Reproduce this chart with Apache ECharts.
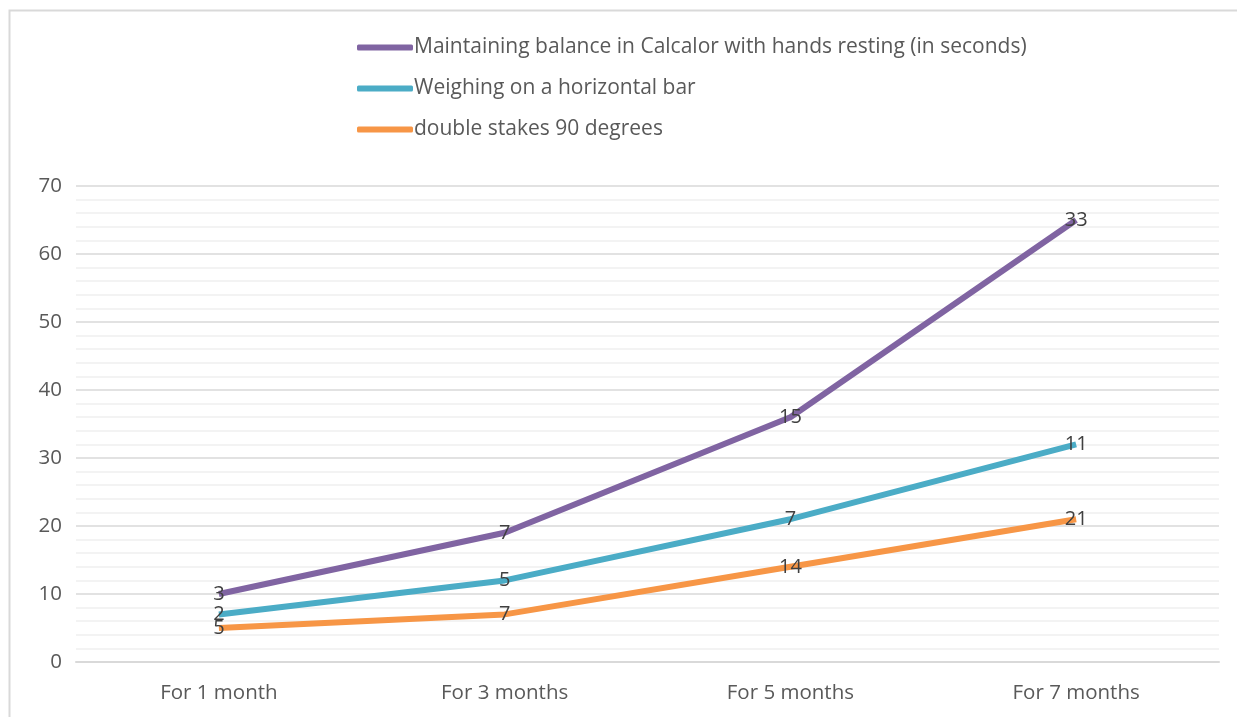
<!DOCTYPE html>
<html>
<head>
<meta charset="utf-8">
<style>
  html, body { margin: 0; padding: 0; background: #fff; }
  #chart { width: 1237px; height: 717px; }
</style>
<script src="https://cdn.jsdelivr.net/npm/echarts@6/dist/echarts.min.js"></script>
</head>
<body>
<div id="chart"></div>
<script>
  // categories and stacked values (labels show each series' own value)
  var months = ["For 1 month", "For 3 months", "For 5 months", "For 7 months"];
  var balanceData = [3, 7, 15, 33];
  var barData = [2, 5, 7, 11];
  var stakesData = [5, 7, 14, 21];

  var names = [
    "Maintaining balance in Calcalor with hands resting (in seconds)",
    "Weighing on a horizontal bar",
    "double stakes 90 degrees"
  ];
  var colors = ["#8064A2", "#4BACC6", "#F79646"];
  var font = "'Open Sans', Lato, sans-serif";

  var myChart = echarts.init(document.getElementById("chart"));

  function makeSeries(name, data, color) {
    return {
      name: name,
      type: "line",
      stack: "total",
      data: data,
      symbol: "circle",
      symbolSize: 0,
      showSymbol: true,
      lineStyle: { color: color, width: 6 },
      itemStyle: { color: color },
      label: {
        show: true,
        position: "inside",
        offset: [0, 2],
        color: "#404040",
        fontSize: 20,
        fontFamily: font
      },
      labelLayout: { hideOverlap: false }
    };
  }

  var option = {
    animation: false,
    backgroundColor: "#fff",
    graphic: [{
      type: "rect",
      shape: { x: 9.5, y: 10.5, width: 1400, height: 900 },
      style: { fill: null, stroke: "#d9d9d9", lineWidth: 2 },
      silent: true
    }],
    legend: {
      orient: "vertical",
      left: 352,
      top: 31,
      itemWidth: 56,
      itemHeight: 6,
      itemGap: 18,
      icon: "roundRect",
      data: names,
      textStyle: { color: "#595959", fontSize: 21, lineHeight: 23, fontFamily: font, padding: [0, 0, 0, -4] }
    },
    grid: { left: 76, right: 18, top: 186, bottom: 55 },
    xAxis: {
      type: "category",
      data: months,
      boundaryGap: true,
      axisLine: { lineStyle: { color: "#d9d9d9", width: 2 } },
      axisTick: { show: false },
      axisLabel: { color: "#595959", fontSize: 20.5, fontFamily: font, margin: 21 }
    },
    yAxis: {
      type: "value",
      min: 0,
      max: 70,
      interval: 10,
      axisLine: { show: false },
      axisTick: { show: false },
      axisLabel: { color: "#595959", fontSize: 20.5, fontFamily: font, margin: 14 },
      splitLine: { lineStyle: { color: "#d9d9d9", width: 1.5 } },
      minorTick: { show: false, splitNumber: 5 },
      minorSplitLine: { show: true, lineStyle: { color: "#f0f0f0", width: 1.5 } }
    },
    // stack order: orange at bottom, then teal, then purple
    series: [
      makeSeries(names[2], stakesData, colors[2]),
      makeSeries(names[1], barData, colors[1]),
      makeSeries(names[0], balanceData, colors[0])
    ]
  };
  myChart.setOption(option);
  window.addEventListener("resize", function () {
    myChart.resize();
  });
</script>
</body>
</html>
